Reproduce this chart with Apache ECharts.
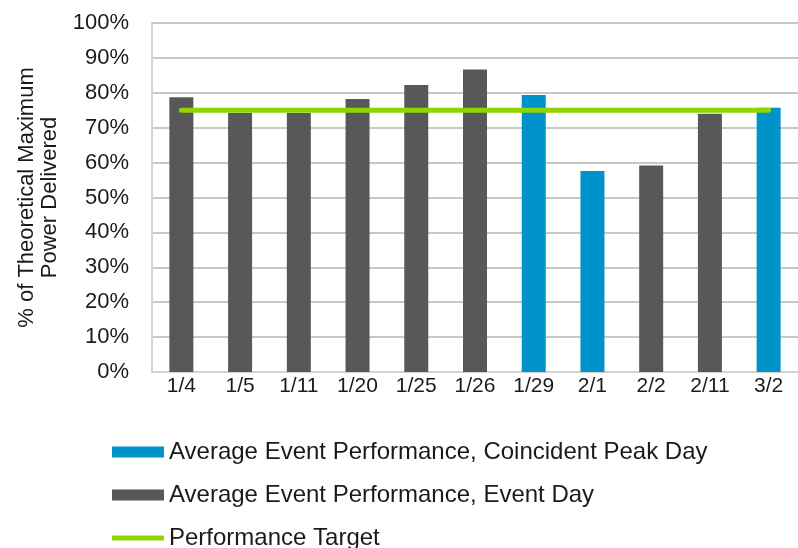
<!DOCTYPE html>
<html>
<head>
<meta charset="utf-8">
<script src="https://cdn.jsdelivr.net/npm/echarts@6/dist/echarts.min.js"></script>
<style>
  html, body { margin: 0; padding: 0; background: #ffffff; }
  #chart { width: 798px; height: 548px; }
</style>
</head>
<body>
<div id="chart"></div>
<script>
// Event dates on the category axis
const categories = ['1/4', '1/5', '1/11', '1/20', '1/25', '1/26', '1/29', '2/1', '2/2', '2/11', '3/2'];

// Average event performance (% of theoretical maximum power delivered)
const peakDayValues  = ['-', '-', '-', '-', '-', '-', 79.4, 57.6, '-', '-', 75.7];
const eventDayValues = [78.7, 74.2, 74.2, 78.2, 82.2, 86.7, '-', '-', 59.2, 74.0, '-'];

// Performance target across all events
const targetValues = [75, 75, 75, 75, 75, 75, 75, 75, 75, 75, 75];

// Value axis ticks
const yTicks = { min: 0, max: 100, step: 10 };

const seriesNames = [
  'Average Event Performance, Coincident Peak Day',
  'Average Event Performance, Event Day',
  'Performance Target'
];

const FONT = '"Liberation Sans", Arial, sans-serif';
const TEXT = '#1a1a1a';
const BLUE = '#0093c9';
const GREY = '#58585a';
const GREEN = '#92d400';

// One legend block per row so the three entries stack in a single column
function legendRow(name, top, extra) {
  return Object.assign({
    orient: 'vertical',
    left: 107,
    top: top,
    itemWidth: 52,
    itemHeight: 11,
    icon: 'rect',
    selectedMode: false,
    textStyle: { fontFamily: FONT, fontSize: 24, color: TEXT, lineHeight: 24 },
    data: [name]
  }, extra || {});
}

const chart = echarts.init(document.getElementById('chart'), null, { renderer: 'canvas' });

chart.setOption({
  animation: false,
  backgroundColor: '#ffffff',
  textStyle: { fontFamily: FONT, color: TEXT },
  grid: { left: 152, top: 23, bottom: 176, width: 660, containLabel: false },
  legend: [
    legendRow(seriesNames[0], 435),
    legendRow(seriesNames[1], 478),
    legendRow(seriesNames[2], 521, {
      icon: 'roundRect',
      itemHeight: 5,
      data: [{ name: seriesNames[2], itemStyle: { color: GREEN } }]
    })
  ],
  xAxis: {
    type: 'category',
    data: categories,
    axisLine: { lineStyle: { color: '#d4d4d4', width: 2 } },
    axisTick: { show: false },
    axisLabel: { fontFamily: FONT, fontSize: 21, color: TEXT, margin: 4 }
  },
  yAxis: {
    type: 'value',
    min: yTicks.min,
    max: yTicks.max,
    interval: yTicks.step,
    name: '% of Theoretical Maximum\nPower Delivered',
    nameLocation: 'middle',
    nameGap: 91,
    nameTextStyle: { fontFamily: FONT, fontSize: 22, color: TEXT, lineHeight: 23 },
    axisLine: { show: true, lineStyle: { color: '#d4d4d4', width: 2 } },
    axisTick: { show: false },
    axisLabel: { fontFamily: FONT, fontSize: 22, color: TEXT, margin: 23, formatter: '{value}%' },
    splitLine: { lineStyle: { color: '#c8c8c8', width: 2 } }
  },
  series: [
    {
      name: seriesNames[0],
      type: 'bar',
      stack: 'perf',
      barWidth: 24,
      itemStyle: { color: BLUE },
      data: peakDayValues
    },
    {
      name: seriesNames[1],
      type: 'bar',
      stack: 'perf',
      barWidth: 24,
      itemStyle: { color: GREY },
      data: eventDayValues
    },
    {
      name: seriesNames[2],
      type: 'line',
      z: 5,
      symbol: 'none',
      showSymbol: false,
      itemStyle: { color: GREEN },
      lineStyle: { color: GREEN, width: 5, cap: 'round' },
      data: targetValues
    }
  ]
});
</script>
</body>
</html>
